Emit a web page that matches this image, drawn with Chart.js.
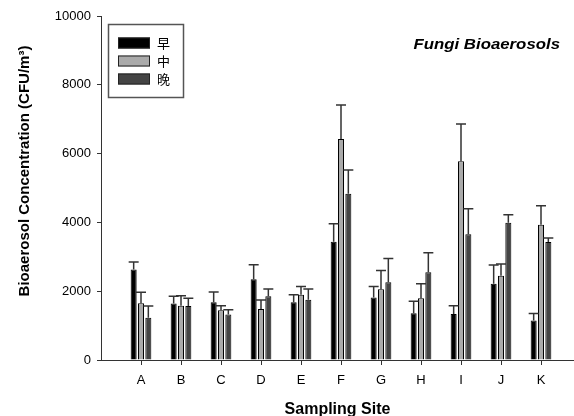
<!DOCTYPE html>
<html>
<head>
<meta charset="utf-8">
<script src="https://cdn.jsdelivr.net/npm/chart.js@4/dist/chart.umd.min.js"></script>
<style>
  body { margin: 0; background: #fff; }
  canvas { display: block; }
</style>
</head>
<body>
<canvas id="chart" width="574" height="416"></canvas>
<script>
// sampling sites
var sites = ["A", "B", "C", "D", "E", "F", "G", "H", "I", "J", "K"];

// 早 (morning)
var early    = [2630, 1640, 1680, 2345, 1680, 3440, 1820, 1360, 1340, 2220, 1150];
var earlyErr = [ 220,  215,  300,  425,  215,  520,  320,  350,  240,  540,  205];

// 中 (noon)
var mid      = [1650, 1580, 1445, 1485, 1900, 6425, 2055, 1795, 5775, 2450, 3935];
var midErr   = [ 320,  290,  135,  260,  235,  990,  545,  425, 1085,  340,  550];

// 晚 (evening)
var late     = [1230, 1570, 1325, 1850, 1755, 4835, 2260, 2550, 3655, 3990, 3430];
var lateErr  = [ 340,  225,  135,  215,  310,  690,  690,  570,  745,  230,  115];

var yTicks = [0, 2000, 4000, 6000, 8000, 10000];

function points(vals) {
  return vals.map(function(v, i){ return { x: i + 1, y: v }; });
}

Chart.defaults.font.family = "'Liberation Sans', Arial, sans-serif";
Chart.defaults.color = "#000";

// upper error bars
var errorBars = {
  id: "errorBars",
  afterDatasetsDraw: function(chart) {
    var ctx = chart.ctx;
    var yScale = chart.scales.y;
    ctx.save();
    ctx.strokeStyle = "#333";
    ctx.lineWidth = 1.5;
    chart.data.datasets.forEach(function(ds, d){
      var meta = chart.getDatasetMeta(d);
      meta.data.forEach(function(bar, i){
        var top = yScale.getPixelForValue(ds.data[i].y + ds.errors[i]);
        ctx.beginPath();
        ctx.moveTo(bar.x, bar.y);
        ctx.lineTo(bar.x, top);
        ctx.moveTo(bar.x - 5, top);
        ctx.lineTo(bar.x + 5, top);
        ctx.stroke();
      });
    });
    ctx.restore();
  }
};

// legend box, panel label and y title
var extras = {
  id: "extras",
  afterDraw: function(chart) {
    var ctx = chart.ctx;
    ctx.save();

    // legend
    ctx.strokeStyle = "#555";
    ctx.lineWidth = 1.5;
    ctx.strokeRect(108.5, 24.5, 75, 73);
    ctx.font = "13px 'Noto Sans CJK SC', sans-serif";
    ctx.textBaseline = "middle";
    ctx.textAlign = "left";
    chart.data.datasets.forEach(function(ds, d){
      var cy = 43 + d * 18;
      ctx.fillStyle = ds.backgroundColor;
      ctx.fillRect(118, cy - 5.5, 32, 11);
      ctx.strokeStyle = "#222";
      ctx.lineWidth = 1;
      ctx.strokeRect(118.5, cy - 5, 31, 10);
      ctx.fillStyle = "#000";
      ctx.fillText(ds.label, 157, cy);
    });

    // panel label
    ctx.font = "italic bold 15px 'Liberation Sans', Arial, sans-serif";
    ctx.textAlign = "right";
    ctx.textBaseline = "middle";
    ctx.save();
    ctx.translate(560, 45);
    ctx.scale(1.12, 1);
    ctx.fillText("Fungi Bioaerosols", 0, 0);
    ctx.restore();

    // y axis title
    ctx.font = "bold 15px 'Liberation Sans', Arial, sans-serif";
    ctx.textAlign = "center";
    ctx.translate(25, 171);
    ctx.rotate(-Math.PI / 2);
    ctx.fillText("Bioaerosol Concentration (CFU/m\u00B3)", 0, 0);

    ctx.restore();
  }
};

new Chart(document.getElementById("chart").getContext("2d"), {
  type: "bar",
  data: {
    datasets: [
      { label: "早", data: points(early), errors: earlyErr, backgroundColor: "#000000" },
      { label: "中", data: points(mid),   errors: midErr,   backgroundColor: "#aaaaaa" },
      { label: "晚", data: points(late),  errors: lateErr,  backgroundColor: "#444444" }
    ]
  },
  options: {
    responsive: false,
    animation: false,
    devicePixelRatio: 1,
    layout: { padding: { top: 16, right: 0, left: 0, bottom: 0 } },
    datasets: {
      bar: {
        borderColor: "#000",
        borderWidth: 1,
        categoryPercentage: 0.55,
        barPercentage: 0.82
      }
    },
    plugins: {
      legend: { display: false },
      tooltip: { enabled: false }
    },
    scales: {
      x: {
        type: "linear",
        min: 0,
        max: 11.825,
        offset: false,
        afterFit: function(scale){ scale.height = 56; },
        afterBuildTicks: function(scale){
          scale.ticks = sites.map(function(s, i){ return { value: i + 1 }; });
        },
        grid: { display: true, drawOnChartArea: false, offset: false, tickLength: 5, color: "#333" },
        border: { display: true, color: "#333", width: 1 },
        ticks: {
          padding: 8,
          maxRotation: 0,
          autoSkip: false,
          font: { size: 13 },
          callback: function(v){ return sites[v - 1] || ""; }
        },
        title: {
          display: true,
          text: "Sampling Site",
          font: { size: 16, weight: "bold" },
          padding: { top: 0, bottom: -3 }
        }
      },
      y: {
        min: 0,
        max: 10000,
        afterFit: function(scale){ scale.width = 101; },
        afterBuildTicks: function(scale){
          scale.ticks = yTicks.map(function(v){ return { value: v }; });
        },
        grid: { display: true, drawOnChartArea: false, tickLength: 4, color: "#333" },
        border: { display: true, color: "#333", width: 1 },
        ticks: {
          padding: 6,
          font: { size: 13 },
          callback: function(v){ return String(v); }
        }
      }
    }
  },
  plugins: [errorBars, extras]
});
</script>
</body>
</html>
